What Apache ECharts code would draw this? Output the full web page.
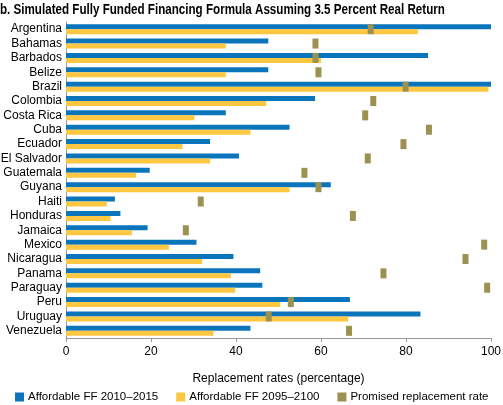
<!DOCTYPE html>
<html><head><meta charset="utf-8">
<script src="https://cdn.jsdelivr.net/npm/echarts@6/dist/echarts.min.js"></script>
<style>html,body{margin:0;padding:0;background:#fff}#c{width:503px;height:405px}</style>
</head><body><div id="c"></div>
<script>
const countries = ["Argentina","Bahamas","Barbados","Belize","Brazil","Colombia","Costa Rica","Cuba","Ecuador","El Salvador","Guatemala","Guyana","Haiti","Honduras","Jamaica","Mexico","Nicaragua","Panama","Paraguay","Peru","Uruguay","Venezuela"];
const ff2010 = [100,47.6,85.2,47.6,100,58.6,37.6,52.6,33.9,40.7,19.7,62.3,11.5,12.8,19.2,30.7,39.4,45.7,46.2,66.8,83.4,43.4];
const ff2095 = [82.8,37.6,60.0,37.6,99.4,47.1,30.2,43.4,27.4,33.9,16.5,52.6,9.6,10.5,15.5,24.2,32.0,38.8,39.8,50.4,66.4,34.7];
const promised = [71.7,58.7,58.7,59.4,79.9,72.3,70.4,85.4,79.4,71.0,56.1,59.4,31.7,67.5,28.2,98.4,94.0,74.7,99.1,52.9,47.7,66.6];
const xTicks = [0,20,40,60,80,100];

const font = 'Liberation Sans, Arial, sans-serif';
const chart = echarts.init(document.getElementById('c'));
chart.setOption({
  animation:false,
  graphic:[{type:'text',left:0,top:3,scaleX:0.83,
    style:{text:'b. Simulated Fully Funded Financing Formula Assuming 3.5 Percent Real Return',
      font:'bold 14px Liberation Sans, Arial, sans-serif',fill:'#000'}}],
  grid:{left:66,right:12,top:22,bottom:67,outerBoundsMode:'none',containLabel:false},
  legend:{top:391,left:15,padding:0,itemWidth:9,itemHeight:9,itemGap:18,icon:'rect',
    textStyle:{fontFamily:font,fontSize:11.5,color:'#000',padding:[0,0,0,-1]},
    data:['Affordable FF 2010–2015','Affordable FF 2095–2100','Promised replacement rate']},
  xAxis:{type:'value',min:xTicks[0],max:xTicks[xTicks.length-1],interval:20,
    name:'Replacement rates (percentage)',nameLocation:'middle',nameGap:35,
    nameTextStyle:{fontFamily:font,fontSize:12,color:'#000'},
    axisLine:{show:true,lineStyle:{color:'#999'}},
    axisTick:{show:true,length:4,lineStyle:{color:'#999'}},
    axisLabel:{fontFamily:font,fontSize:12,color:'#000',margin:8},
    splitLine:{show:false}},
  yAxis:{type:'category',data:countries,inverse:true,
    axisLine:{show:true,lineStyle:{color:'#999'}},
    axisTick:{show:false},
    axisLabel:{fontFamily:font,fontSize:12,color:'#000',margin:4,interval:0}},
  series:[
    {name:'Affordable FF 2010–2015',type:'bar',data:ff2010,barWidth:5,barGap:'0%',itemStyle:{color:'#0B75BC'}},
    {name:'Affordable FF 2095–2100',type:'bar',data:ff2095,barWidth:5,itemStyle:{color:'#FDC741'}},
    {name:'Promised replacement rate',type:'scatter',data:promised,symbol:'rect',symbolSize:[6,10],
     itemStyle:{color:'#9C9150',opacity:1},z:5}
  ]
});
</script></body></html>
